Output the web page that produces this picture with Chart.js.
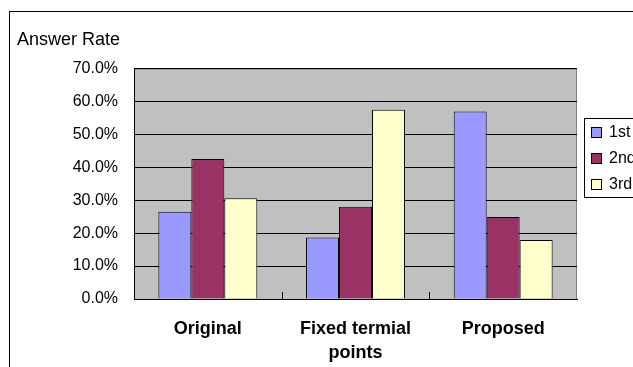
<!DOCTYPE html>
<html>
<head>
<meta charset="utf-8">
<script src="https://cdn.jsdelivr.net/npm/chart.js@4/dist/chart.umd.min.js"></script>
<style>
  html, body { margin: 0; padding: 0; width: 633px; height: 367px; overflow: hidden; background: #fff; }
  #frame { position: absolute; left: 9px; top: 11px; width: 700px; height: 400px;
           border-left: 1px solid #000; border-top: 1px solid #000; }
  #chart { display: block; }
</style>
</head>
<body>
<div id="frame"><canvas id="chart" width="680" height="355"></canvas></div>
<script>
// Answer rate per method, split by rank
const categories = ['Original', ['Fixed termial', 'points'], 'Proposed'];
const seriesNames = ['1st', '2nd', '3rd'];
const first  = [26.5, 18.7, 57.0];
const second = [42.5, 28.0, 24.9];
const third  = [30.6, 57.5, 17.9];
const yTicks = [0, 10, 20, 30, 40, 50, 60, 70];

const fills = ['#9999FF', '#993366', '#FFFFCC'];
const FONT = "'Liberation Sans', Arial, sans-serif";

// Gray plot background, inward category ticks and a boxed legend
const plotDecor = {
  id: 'plotDecor',
  beforeDraw(chart) {
    const { ctx, chartArea: a } = chart;
    ctx.save();
    ctx.fillStyle = '#C0C0C0';
    ctx.fillRect(a.left, a.top, a.right - a.left, a.bottom - a.top);
    ctx.strokeStyle = '#808080';
    ctx.lineWidth = 1;
    ctx.strokeRect(a.left + 0.5, a.top + 0.5, a.right - a.left - 1, a.bottom - a.top);
    ctx.restore();
  },
  afterDraw(chart) {
    const { ctx, chartArea: a } = chart;
    const xs = chart.scales.x;
    ctx.save();
    ctx.strokeStyle = '#000';
    ctx.lineWidth = 1;
    for (let i = 0; i < categories.length - 1; i++) {
      const px = Math.round((xs.getPixelForValue(i) + xs.getPixelForValue(i + 1)) / 2) + 0.5;
      ctx.beginPath();
      ctx.moveTo(px, a.bottom);
      ctx.lineTo(px, a.bottom - 7);
      ctx.stroke();
    }
    // legend
    const x0 = Math.round(a.right) + 7, y0 = Math.round(a.top) + 49;
    ctx.fillStyle = '#fff';
    ctx.fillRect(x0, y0, 100, 79);
    ctx.strokeStyle = '#000';
    ctx.strokeRect(x0 + 0.5, y0 + 0.5, 100, 79);
    ctx.font = '16px ' + FONT;
    ctx.textBaseline = 'middle';
    chart.data.datasets.forEach((ds, i) => {
      const sy = y0 + 9 + i * 26;
      ctx.fillStyle = ds.backgroundColor;
      ctx.fillRect(x0 + 7, sy, 11, 11);
      ctx.strokeStyle = '#000';
      ctx.strokeRect(x0 + 7.5, sy + 0.5, 10, 10);
      ctx.fillStyle = '#000';
      ctx.fillText(ds.label, x0 + 25, sy + 6);
    });
    ctx.restore();
  }
};

new Chart(document.getElementById('chart'), {
  type: 'bar',
  data: {
    labels: categories,
    datasets: [first, second, third].map((vals, i) => ({
      label: seriesNames[i],
      data: vals,
      backgroundColor: fills[i],
      borderColor: '#000',
      borderWidth: 1,
      categoryPercentage: 0.67,
      barPercentage: 1.0
    }))
  },
  options: {
    responsive: false,
    animation: false,
    layout: { padding: { left: 7, right: 113, top: 0, bottom: 0 } },
    plugins: {
      legend: { display: false },
      tooltip: { enabled: false },
      title: {
        display: true,
        text: 'Answer Rate',
        align: 'start',
        color: '#000',
        font: { family: FONT, size: 18, weight: 'normal' },
        padding: { top: 17, bottom: 18 }
      }
    },
    scales: {
      x: {
        grid: { display: false, drawTicks: false },
        border: { display: true, color: '#000', width: 1 },
        ticks: {
          color: '#000',
          padding: 18,
          maxRotation: 0,
          autoSkip: false,
          font: { family: FONT, size: 18, weight: 'bold', lineHeight: 1.3333 }
        },
        afterFit(scale) { scale.height = 68; }
      },
      y: {
        min: 0,
        max: 70,
        afterBuildTicks(scale) { scale.ticks = yTicks.map(v => ({ value: v })); },
        grid: { color: '#000', lineWidth: 1, drawTicks: false },
        border: { display: true, color: '#000', width: 1 },
        ticks: {
          color: '#000',
          padding: 16,
          font: { family: FONT, size: 16 },
          callback: v => v.toFixed(1) + '%'
        },
        afterFit(scale) { scale.width = 117; }
      }
    }
  },
  plugins: [plotDecor]
});
</script>
</body>
</html>
